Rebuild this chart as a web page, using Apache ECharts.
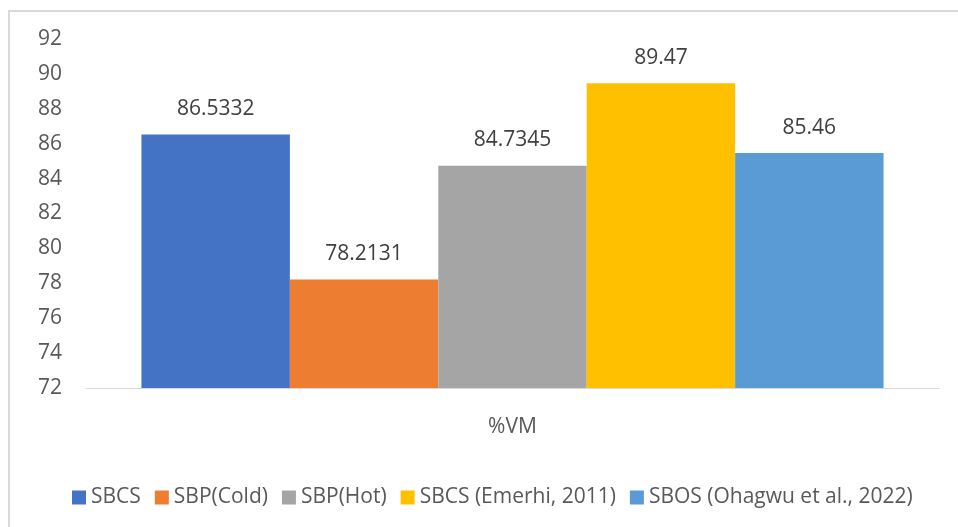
<!DOCTYPE html>
<html>
<head>
<meta charset="utf-8">
<script src="https://cdn.jsdelivr.net/npm/echarts@6/dist/echarts.min.js"></script>
<style>
    html, body { margin: 0; padding: 0; background: #fff; }
    #main { width: 958px; height: 527px; }
</style>
</head>
<body>
<div id="main"></div>
<script>
var categories = ['%VM'];
var seriesNames = ['SBCS', 'SBP(Cold)', 'SBP(Hot)', 'SBCS (Emerhi, 2011)', 'SBOS (Ohagwu et al., 2022)'];
var seriesValues = [86.5332, 78.2131, 84.7345, 89.47, 85.46];
var seriesColors = ['#4472C4', '#ED7D31', '#A5A5A5', '#FFC000', '#5B9BD5'];

var myChart = echarts.init(document.getElementById('main'));
var font = 'Open Sans';

var series = seriesNames.map(function (name, i) {
    return {
        name: name,
        type: 'bar',
        data: [seriesValues[i]],
        barGap: '0%',
        barCategoryGap: '13%',
        itemStyle: { color: seriesColors[i] },
        label: {
            show: true,
            position: 'top',
            distance: 15,
            color: '#404040',
            fontFamily: font,
            fontSize: 21
        }
    };
});

var option = {
    backgroundColor: '#fff',
    animation: false,
    graphic: [{
        type: 'rect',
        shape: { x: 9, y: 11, width: 1000, height: 600 },
        style: { fill: 'none', stroke: '#d9d9d9', lineWidth: 2 },
        silent: true
    }],
    grid: { left: 86, right: 19, top: 39, bottom: 139 },
    legend: {
        left: 67,
        top: 482,
        itemWidth: 14,
        itemHeight: 14,
        itemGap: 14,
        icon: 'rect',
        textStyle: { color: '#595959', fontFamily: font, fontSize: 21 },
        data: seriesNames
    },
    xAxis: {
        type: 'category',
        data: categories,
        axisLine: { lineStyle: { color: '#d9d9d9', width: 1 } },
        axisTick: { show: false },
        axisLabel: { color: '#595959', fontFamily: font, fontSize: 21, margin: 29 }
    },
    yAxis: {
        type: 'value',
        min: 72,
        max: 92,
        interval: 2,
        axisLine: { show: false },
        axisTick: { show: false },
        splitLine: { show: false },
        axisLabel: { color: '#595959', fontFamily: font, fontSize: 21, margin: 24 }
    },
    series: series
};
myChart.setOption(option);
</script>
</body>
</html>
